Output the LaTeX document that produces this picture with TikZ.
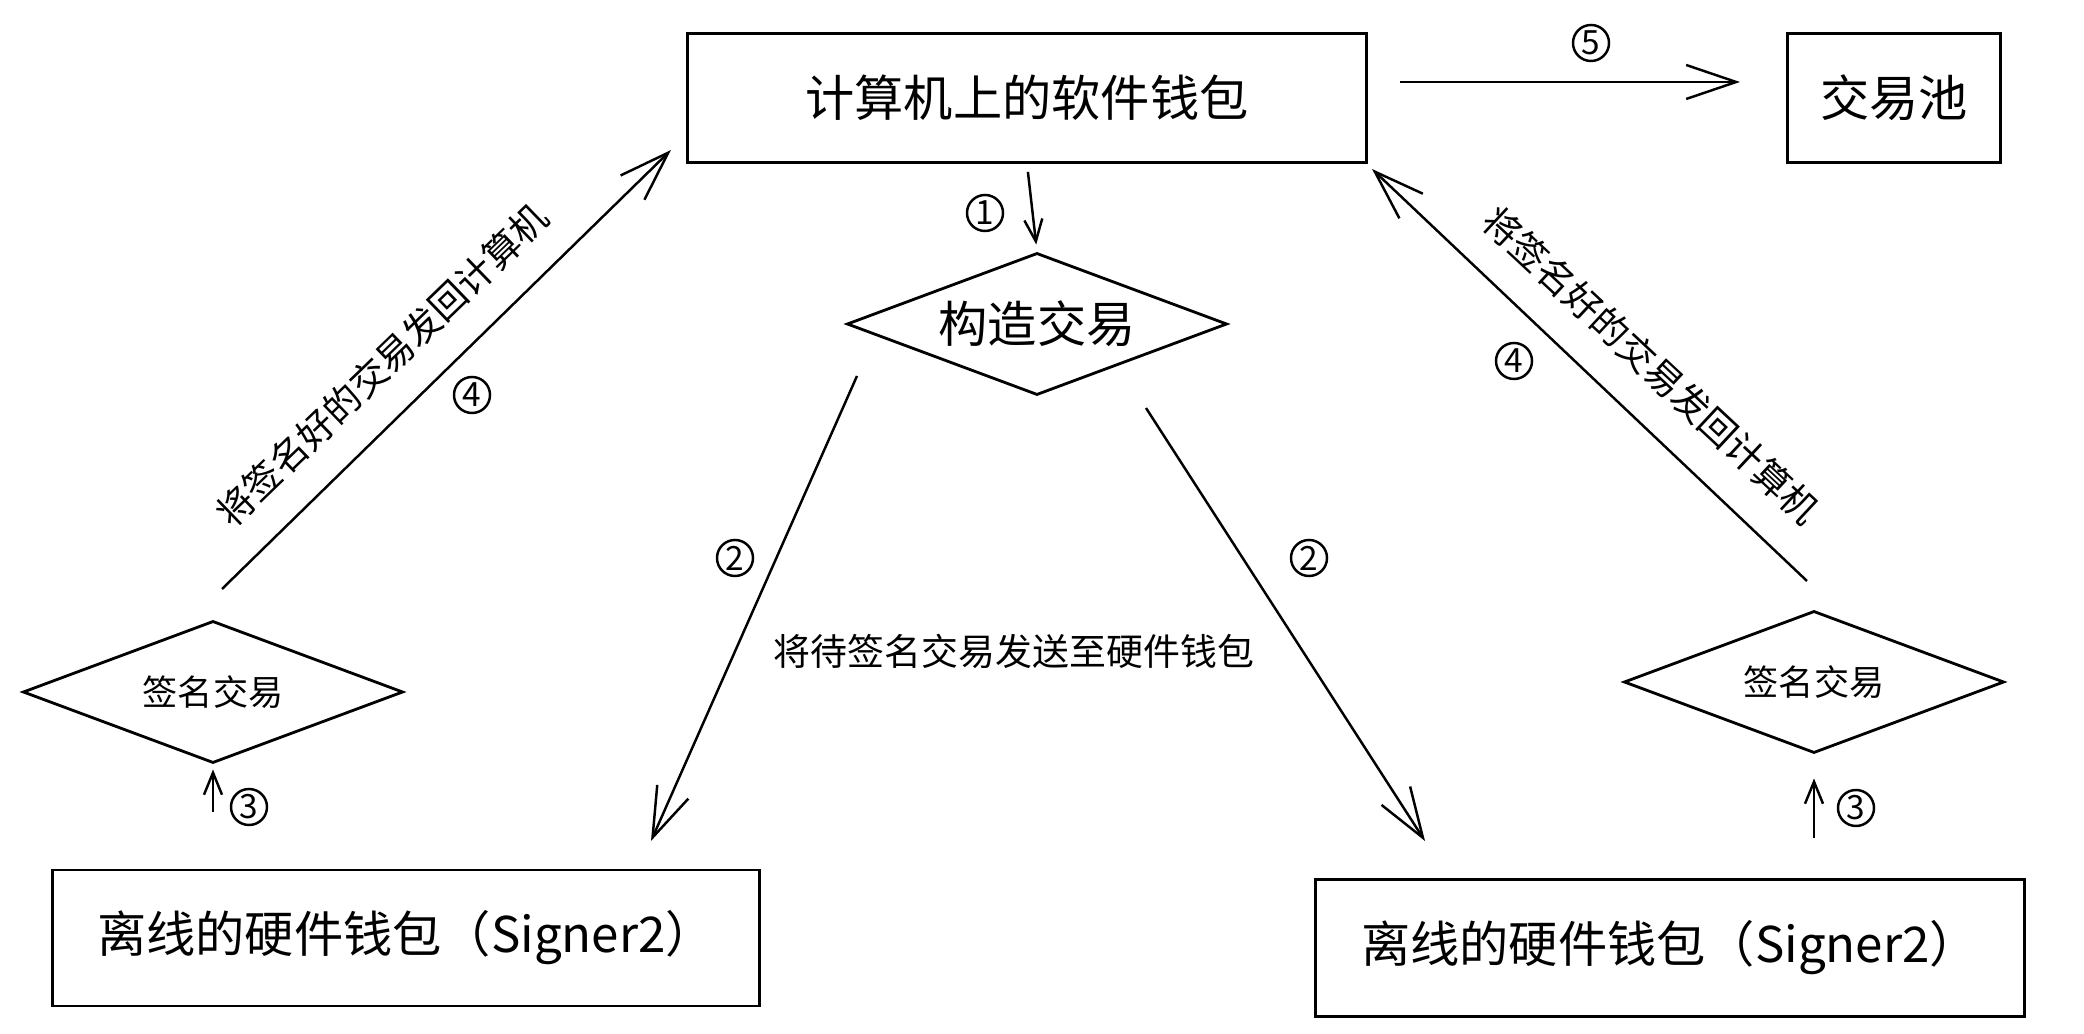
\documentclass[tikz,border=0pt]{standalone}
\usepackage{fontspec}
\setmainfont{Noto Sans CJK SC}
\usetikzlibrary{shapes.geometric}
\usetikzlibrary{arrows.meta}

\begin{document}
\begin{tikzpicture}[x=0.01cm, y=-0.01cm]

\tikzstyle{box}=[rectangle, draw=black, line width=0.8pt, font=\fontsize{14}{16}\selectfont]
\tikzstyle{decide}=[diamond, draw=black, line width=0.8pt, aspect=2.68, inner sep=0pt, minimum width=3.8cm, minimum height=1.42cm]
\tikzstyle{num}=[circle, draw=black, line width=0.7pt, inner sep=0pt, minimum size=0.36cm, font=\fontsize{9.5}{10}\selectfont]
\tikzstyle{note}=[font=\fontsize{10.5}{12}\selectfont]

\tikzstyle{connect}=[-{Straight Barb[length=5mm, width=3.4mm]}, line width=0.7pt]
\tikzstyle{short}=[-{Straight Barb[length=2.2mm, width=1.8mm]}, line width=0.7pt]

\useasboundingbox (0,0) rectangle (2084,1034);

\node[box, minimum width=6.79cm, minimum height=1.29cm] (wallet) at (1027,98) {计算机上的软件钱包};
\node[box, minimum width=2.13cm, minimum height=1.29cm] (pool) at (1894,98) {交易池};
\node[decide, font=\fontsize{14}{16}\selectfont] (build) at (1037,324) {构造交易};

\node[decide, font=\fontsize{10}{12}\selectfont] (signL) at (213,692) {签名交易};
\node[decide, font=\fontsize{10}{12}\selectfont] (signR) at (1814,682) {签名交易};

\node[box, minimum width=7.06cm, minimum height=1.36cm] (hwL) at (406,938) {离线的硬件钱包（Signer2）};
\node[box, minimum width=7.09cm, minimum height=1.37cm] (hwR) at (1670,948) {离线的硬件钱包（Signer2）};

\coordinate (sendLs) at (857,376);
\coordinate (sendLe) at (651,841);
\coordinate (sendRs) at (1146,408);
\coordinate (sendRe) at (1425,841);
\coordinate (backLs) at (222,589);
\coordinate (backLe) at (671,150);
\coordinate (backRs) at (1807,581);
\coordinate (backRe) at (1372,169);


\path (wallet.south) [short, shorten <=0.08cm, shorten >=0.07cm] edge (build.north);
\path ([yshift=0.16cm]wallet.east) [connect, shorten <=0.32cm, shorten >=0.46cm] edge ([yshift=0.16cm]pool.west);

\path (sendLs) [connect] edge (sendLe);
\path (sendRs) [connect] edge (sendRe);

\path (signL.south |- hwL.north) [short, shorten <=0.57cm, shorten >=0.05cm] edge (signL.south);
\path (signR.south |- hwR.north) [short, shorten <=0.4cm, shorten >=0.24cm] edge (signR.south);

\path (backLs) [connect] edge (backLe);
\path (backRs) [connect] edge (backRe);


\node[num] (n1) at (985,213) {1};
\node[num] (n2L) at (735,558) {2};
\node[num] (n2R) at (1309,558) {2};
\node[num] (n3L) at (249,807) {3};
\node[num] (n3R) at (1856,808) {3};
\node[num] (n4L) at (472,395) {4};
\node[num] (n4R) at (1514,361) {4};
\node[num] (n5) at (1591,43) {5};

\node[note] (sendtxt) at (1014,651) {将待签名交易发送至硬件钱包};
\node[note, rotate=44] (backtxtL) at (382,365) {将签名好的交易发回计算机};
\node[note, rotate=-43] (backtxtR) at (1651,365) {将签名好的交易发回计算机};

\end{tikzpicture}
\end{document}
